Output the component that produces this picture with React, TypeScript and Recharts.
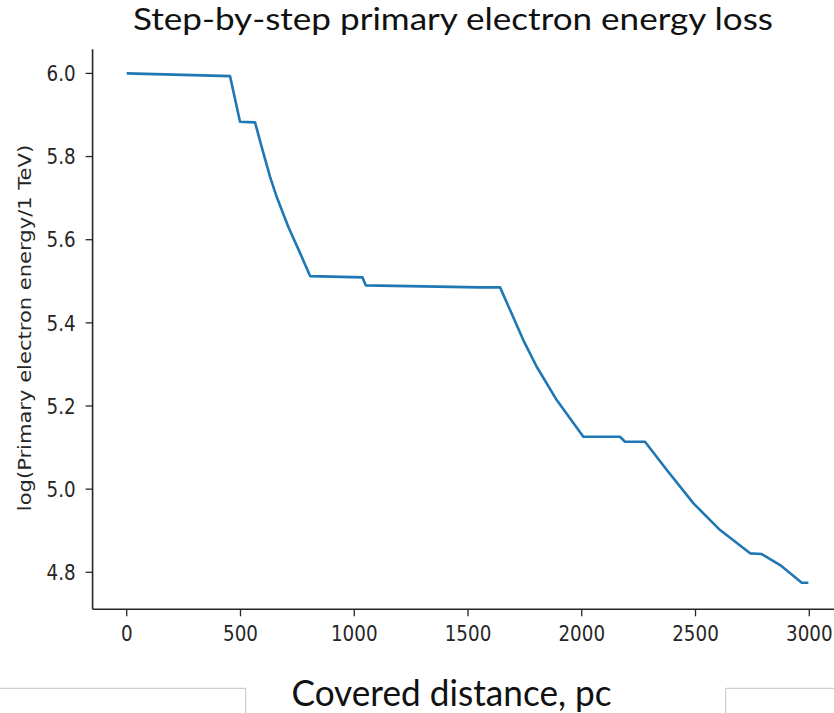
import React from "react";
import { LineChart, Line, XAxis, YAxis } from "recharts";

const distancePc = [
  0, 454, 498, 564, 593, 630, 659, 710, 762, 806, 1036, 1051, 1553, 1641, 1685,
  1743, 1802, 1890, 2007, 2168, 2190, 2278, 2374, 2491, 2608, 2740, 2791, 2872,
  2967, 2996,
];
const logEnergy = [
  6.0, 5.9935, 5.8836, 5.8822, 5.8235, 5.7513, 5.7032, 5.6311, 5.5678, 5.5125,
  5.5094, 5.4901, 5.4853, 5.4853, 5.4307, 5.3586, 5.2944, 5.2143, 5.126, 5.126,
  5.114, 5.114, 5.0459, 4.9658, 4.9016, 4.8456, 4.8439, 4.8174, 4.7749, 4.7749,
];
const xTicks = [0, 500, 1000, 1500, 2000, 2500, 3000];
const yTicks = [4.8, 5.0, 5.2, 5.4, 5.6, 5.8, 6.0];

const titleText = "Step-by-step primary electron energy loss";
const xLabelText = "Covered distance, pc";
const yLabelText = "log(Primary electron energy/1 TeV)";

const data = distancePc.map((d, i) => ({ d, e: logEnergy[i] }));

const TICK_FONT = 18.3;
const STRETCH = 1.15;
const INK = "#262626";

const XTick = (props: any) => {
  const { x, y, payload } = props;
  return (
    <text
      transform={`translate(${x},${y + 24.3}) scale(1,${STRETCH})`}
      textAnchor="middle"
      fontFamily="DejaVu Sans"
      fontSize={TICK_FONT}
      fill={INK}
    >
      {payload.value}
    </text>
  );
};

const YTick = (props: any) => {
  const { x, y, payload } = props;
  return (
    <text
      transform={`translate(${x - 10},${y + 7.7}) scale(1,${STRETCH})`}
      textAnchor="end"
      fontFamily="DejaVu Sans"
      fontSize={TICK_FONT}
      fill={INK}
    >
      {Number(payload.value).toFixed(1)}
    </text>
  );
};

export default function App() {
  return (
    <div
      style={{
        position: "absolute",
        left: 0,
        top: 0,
        width: 834,
        height: 713,
        overflow: "hidden",
        background: "#fff",
      }}
    >
      <LineChart
        width={850}
        height={713}
        data={data}
        margin={{ top: 49.3, right: 6.6, bottom: 73.7, left: 0 }}
      >
        <XAxis
          xAxisId="top"
          orientation="top"
          dataKey="d"
          type="number"
          domain={[-150, 3150]}
          allowDataOverflow
          height={0}
          tick={false}
          tickLine={false}
          axisLine={{ stroke: INK, strokeWidth: 1.6 }}
        />
        <XAxis
          dataKey="d"
          type="number"
          domain={[-150, 3150]}
          allowDataOverflow
          ticks={xTicks}
          interval={0}
          height={30}
          tickSize={7}
          tickMargin={0}
          tick={<XTick />}
          tickLine={{ stroke: INK, strokeWidth: 1.3 }}
          axisLine={{ stroke: INK, strokeWidth: 1.6 }}
        />
        <YAxis
          type="number"
          domain={[4.711, 6.058]}
          allowDataOverflow
          ticks={yTicks}
          interval={0}
          width={92.6}
          tickSize={7}
          tickMargin={0}
          tick={<YTick />}
          tickLine={{ stroke: INK, strokeWidth: 1.3 }}
          axisLine={{ stroke: INK, strokeWidth: 1.6 }}
        />
        <Line
          dataKey="e"
          type="linear"
          stroke="#1f77b4"
          strokeWidth={2.6}
          dot={false}
          activeDot={false}
          isAnimationActive={false}
          strokeLinejoin="round"
        />
      </LineChart>
      <svg
        width={834}
        height={713}
        style={{ position: "absolute", left: 0, top: 0, pointerEvents: "none" }}
      >
        <text
          x={133}
          y={30}
          fontFamily="Lato"
          fontSize={31.5}
          fill="#111"
          textLength={640}
          lengthAdjust="spacingAndGlyphs"
        >
          {titleText}
        </text>
        <text
          x={291.5}
          y={705.5}
          fontFamily="Lato"
          fontSize={36.5}
          fill="#111"
          textLength={320}
          lengthAdjust="spacingAndGlyphs"
        >
          {xLabelText}
        </text>
        <text
          transform={`translate(31,328) scale(1,${STRETCH}) rotate(-90)`}
          textAnchor="middle"
          fontFamily="DejaVu Sans"
          fontSize={TICK_FONT}
          fill={INK}
        >
          {yLabelText}
        </text>
        <path d="M0,688.3 H245.7 V713" fill="none" stroke="#c4c4c4" strokeWidth={1} />
        <path d="M725.7,713 V688.3 H834" fill="none" stroke="#c4c4c4" strokeWidth={1} />
      </svg>
    </div>
  );
}
